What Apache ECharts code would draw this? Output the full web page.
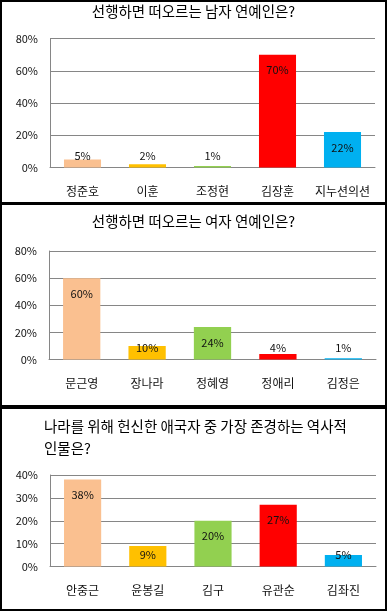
<!DOCTYPE html>
<html><head><meta charset="utf-8">
<script src="https://cdn.jsdelivr.net/npm/echarts@6/dist/echarts.min.js"></script>
<style>html,body{margin:0;padding:0;background:#fff}#c{width:387px;height:611px}</style>
</head><body><div id="c"></div>
<script>
const titles = ['선행하면 떠오르는 남자 연예인은?', '선행하면 떠오르는 여자 연예인은?', '나라를 위해 헌신한 애국자 중 가장 존경하는 역사적\n인물은?'];
const cats1 = ['정준호', '이훈', '조정현', '김장훈', '지누션의션'];
const vals1 = [5, 2, 1, 70, 22];
const cats2 = ['문근영', '장나라', '정혜영', '정애리', '김정은'];
const vals2 = [60, 10, 24, 4, 1];
const cats3 = ['안중근', '윤봉길', '김구', '유관순', '김좌진'];
const vals3 = [38, 9, 20, 27, 5];
const barColors = ['#FAC090', '#FFC000', '#92D050', '#FF0000', '#00B0F0'];
const yMax = [80, 80, 40];
const yInterval = [20, 20, 10];

const FONT = '"Noto Sans CJK KR", "Noto Sans", sans-serif';
const grids = [
  {left: 50, right: 12, top: 38.5, height: 129},
  {left: 49, right: 11, top: 251, height: 108.5},
  {left: 50, right: 11, top: 475, height: 91.5}
];
const cats = [cats1, cats2, cats3];
const vals = [vals1, vals2, vals3];

const xAxes = [], yAxes = [], series = [];
for (let i = 0; i < 3; i++) {
  xAxes.push({
    type: 'category', gridIndex: i, data: cats[i],
    axisLine: {lineStyle: {color: '#868686', width: 1}},
    axisTick: {show: false},
    axisLabel: {color: '#111', fontSize: 12, fontFamily: FONT, margin: 18, interval: 0, hideOverlap: false}
  });
  yAxes.push({
    type: 'value', gridIndex: i, min: 0, max: yMax[i], interval: yInterval[i],
    axisLine: {show: true, lineStyle: {color: '#868686', width: 1}},
    axisTick: {show: false},
    splitLine: {lineStyle: {color: '#868686', width: 1}},
    axisLabel: {color: '#111', fontSize: 11, fontFamily: FONT, margin: 12, formatter: '{value}%'}
  });
  const pxPer = grids[i].height / yMax[i];
  series.push({
    type: 'bar', xAxisIndex: i, yAxisIndex: i, barWidth: '57%',
    data: vals[i].map((v, j) => {
      const small = v * pxPer < 27;
      return {
        value: v,
        itemStyle: {color: barColors[j]},
        label: small ? {position: 'insideBottom', distance: 6} : {position: 'insideTop', distance: 10}
      };
    }),
    label: {show: true, formatter: '{c}%', color: '#111', fontSize: 11, fontFamily: FONT},
    animation: false
  });
}

const titleStyle = {fontSize: 14.5, fontWeight: 'normal', color: '#000', fontFamily: FONT};
const chart = echarts.init(document.getElementById('c'), null, {renderer: 'canvas'});
chart.setOption({
  backgroundColor: '#fff',
  animation: false,
  title: [
    {text: titles[0], left: 'center', top: 4, padding: 0, textStyle: titleStyle},
    {text: titles[1], left: 'center', top: 214, padding: 0, textStyle: titleStyle},
    {text: titles[2], left: 44, top: 416, padding: 0, textStyle: Object.assign({}, titleStyle, {lineHeight: 21.6})}
  ],
  grid: grids,
  xAxis: xAxes,
  yAxis: yAxes,
  series: series,
  graphic: [
    {type: 'rect', shape: {x: 0, y: 0, width: 387, height: 2}, style: {fill: '#000'}, z: 100},
    {type: 'rect', shape: {x: 0, y: 609, width: 387, height: 2}, style: {fill: '#000'}, z: 100},
    {type: 'rect', shape: {x: 0, y: 0, width: 2, height: 611}, style: {fill: '#000'}, z: 100},
    {type: 'rect', shape: {x: 385, y: 0, width: 2, height: 611}, style: {fill: '#000'}, z: 100},
    {type: 'rect', shape: {x: 0, y: 202, width: 387, height: 3}, style: {fill: '#000'}, z: 100},
    {type: 'rect', shape: {x: 0, y: 405, width: 387, height: 4}, style: {fill: '#000'}, z: 100}
  ]
});
</script></body></html>
